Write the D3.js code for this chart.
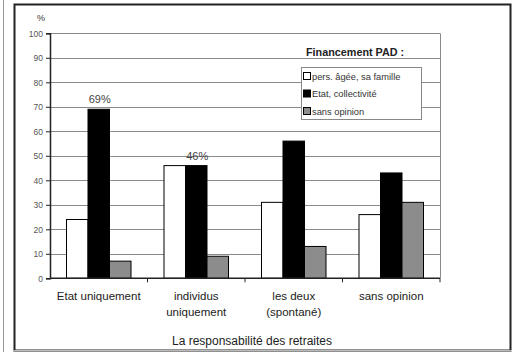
<!DOCTYPE html>
<html><head><meta charset="utf-8">
<script src="https://cdn.jsdelivr.net/npm/d3@7"></script>
<style>body{margin:0;background:#fff;}svg{display:block;font-family:"Liberation Sans",Arial,sans-serif;}</style>
</head><body>
<script>
const categories = [["Etat uniquement"], ["individus","uniquement"], ["les deux","(spontané)"], ["sans opinion"]];
const seriesNames = ["pers. âgée, sa famille", "Etat, collectivité", "sans opinion"];
const persAgee = [24, 46, 31, 26];
const etat = [69, 46, 56, 43];
const sansOpinion = [7, 9, 13, 31];
const yTicks = [0,10,20,30,40,50,60,70,80,90,100];
const annotations = [{cat:0, s:1, text:"69%"}, {cat:1, s:1, text:"46%"}];
const colors = ["#ffffff", "#000000", "#8c8c8c"];

(function(){
const W = 514, H = 352;
const svg = d3.select("body").append("svg").attr("width", W).attr("height", H);

// frame
svg.append("line").attr("x1",3.5).attr("x2",3.5).attr("y1",0).attr("y2",H).attr("stroke","#999").attr("stroke-width",1);
svg.append("rect").attr("x",14.5).attr("y",4.5).attr("width",496).attr("height",346)
  .attr("fill","none").attr("stroke","#222").attr("stroke-width",2);
svg.append("line").attr("x1",14).attr("x2",512).attr("y1",350.5).attr("y2",350.5).attr("stroke","#bbb").attr("stroke-width",1);

const pLeft = 50, pRight = 440, pTop = 33.3, pBottom = 278.3;
const idx = d3.range(categories.length);
const x = d3.scaleBand().domain(idx).range([pLeft, pRight]).paddingInner(0).paddingOuter(0);
const y = d3.scaleLinear().domain([0,100]).range([pBottom, pTop]);
const series = [persAgee, etat, sansOpinion];

// gridlines
svg.append("g").selectAll("line").data(yTicks.filter(d=>d>0)).join("line")
  .attr("x1",pLeft).attr("x2",pRight).attr("y1",d=>Math.round(y(d))+0.5).attr("y2",d=>Math.round(y(d))+0.5)
  .attr("stroke","#8a8a8a").attr("stroke-width",1);
svg.append("line").attr("x1",pRight+0.5).attr("x2",pRight+0.5).attr("y1",y(100)).attr("y2",y(0))
  .attr("stroke","#8a8a8a").attr("stroke-width",1);

// bars
const groups = svg.append("g").selectAll("g").data(idx).join("g").attr("transform", i=>`translate(${x(i)},0)`);
const bw = 21.5, gx0 = (x.bandwidth() - 3*bw)/2;
groups.selectAll("rect").data(i => series.map((s,k)=>({k, v:s[i]}))).join("rect")
  .attr("x", d => gx0 + d.k*bw).attr("width", bw)
  .attr("y", d => y(d.v)).attr("height", d => y(0)-y(d.v))
  .attr("fill", d => colors[d.k]).attr("stroke","#000").attr("stroke-width",1);

// y axis
const yAxis = d3.axisLeft(y).tickValues(yTicks).tickSize(4).tickPadding(3);
const ya = svg.append("g").attr("transform",`translate(${pLeft},0)`).call(yAxis);
ya.select(".domain").attr("stroke","#222").attr("stroke-width",1.5);
ya.selectAll(".tick line").attr("stroke","#222");
ya.selectAll("text").attr("font-size",8.5).attr("fill","#555").attr("font-family","Liberation Sans, Arial, sans-serif");

// x axis
svg.append("line").attr("x1",pLeft).attr("x2",pRight).attr("y1",pBottom).attr("y2",pBottom).attr("stroke","#222").attr("stroke-width",1.5);
svg.append("g").selectAll("line").data(idx).join("line")
  .attr("x1",i=>x(i)+x.bandwidth()).attr("x2",i=>x(i)+x.bandwidth()).attr("y1",pBottom).attr("y2",pBottom+4)
  .attr("stroke","#222").attr("stroke-width",1);

// category labels
svg.append("g").selectAll("text").data(idx).join("text")
  .attr("x", i => x(i)+x.bandwidth()/2).attr("y", 300).attr("text-anchor","middle")
  .attr("font-size",11.5).attr("fill","#222")
  .each(function(i){
    const t = d3.select(this);
    categories[i].forEach((line,j)=>t.append("tspan").attr("x", x(i)+x.bandwidth()/2).attr("dy", j===0?0:16).text(line));
  });

// annotations
svg.append("g").selectAll("text").data(annotations).join("text")
  .attr("x", d => x(d.cat) + gx0 + d.s*bw + bw/2 + 1)
  .attr("y", d => y(series[d.s][d.cat]) - 6)
  .attr("text-anchor","middle").attr("font-size",11).attr("fill","#444").text(d=>d.text);

// y label
svg.append("text").attr("x",41).attr("y",21).attr("text-anchor","middle").attr("font-size",9).attr("fill","#333").text("%");

// x title
svg.append("text").attr("x",252).attr("y",345).attr("text-anchor","middle").attr("font-size",12).attr("fill","#222").text("La responsabilité des retraites");

// legend
svg.append("text").attr("x",306).attr("y",56).attr("font-size",10.8).attr("font-weight","bold").attr("fill","#222").text("Financement PAD :");
const lg = svg.append("g");
lg.append("rect").attr("x",301.5).attr("y",67.5).attr("width",120).attr("height",52).attr("fill","#fff").attr("stroke","#888");
const ly = [76, 93.5, 111];
lg.selectAll("rect.sw").data(seriesNames).join("rect").attr("class","sw")
  .attr("x",303.5).attr("y",(d,i)=>ly[i]-3.5).attr("width",7).attr("height",7)
  .attr("fill",(d,i)=>colors[i]).attr("stroke","#000").attr("stroke-width",1);
lg.selectAll("text").data(seriesNames).join("text")
  .attr("x",312).attr("y",(d,i)=>ly[i]+3.5).attr("font-size",9.3).attr("fill","#333").text(d=>d);
})();
</script>
</body></html>
